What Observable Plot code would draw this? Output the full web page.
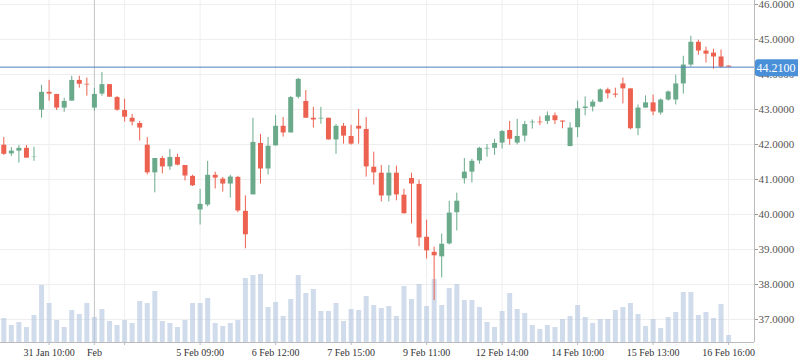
<!DOCTYPE html>
<html><head><meta charset="utf-8">
<script src="https://cdn.jsdelivr.net/npm/d3@7"></script>
<script src="https://cdn.jsdelivr.net/npm/@observablehq/plot@0.6"></script>
<style>html,body{margin:0;padding:0;background:#fff} #chart svg{display:block}</style>
</head><body><div id="chart"></div>
<script>
const opens = [41.98,41.73,41.81,41.89,41.63,42.98,43.49,43.43,43.04,43.24,43.83,43.72,43.04,43.44,43.71,43.34,42.97,42.75,42.60,41.98,41.19,41.60,41.36,41.63,41.40,41.09,40.13,40.27,41.12,41.01,40.87,41.06,40.09,40.56,42.03,41.30,41.96,42.52,42.33,43.35,43.23,42.75,42.73,42.75,42.13,42.52,42.23,42.52,42.43,41.35,41.18,40.53,41.18,40.55,41.03,40.86,39.35,38.92,38.79,39.16,40.05,41.02,41.21,41.53,41.87,41.89,42.04,42.40,42.04,42.24,42.62,42.64,42.66,42.82,42.67,41.94,42.48,43.03,43.07,43.21,43.56,43.44,43.73,43.59,42.45,43.04,43.19,42.90,43.27,43.27,43.73,44.27,44.92,44.67,44.61,44.50,44.24];
const highs = [42.20,41.91,41.97,41.97,41.92,43.69,43.83,43.43,43.32,43.95,43.95,43.90,43.60,44.06,43.71,43.37,43.29,42.86,42.66,42.20,41.60,41.66,41.86,41.72,41.40,41.12,40.72,41.52,41.21,41.06,41.12,41.09,40.53,42.75,42.29,42.20,42.83,42.77,43.37,43.89,43.54,43.06,43.06,42.75,42.57,42.60,42.55,43.00,42.77,41.78,41.40,41.40,41.38,40.72,41.18,40.98,39.84,39.07,39.44,40.38,40.61,41.60,41.58,41.92,42.00,42.15,42.40,42.66,42.72,42.66,42.70,42.79,42.93,42.90,42.67,42.62,43.24,43.36,43.27,43.59,43.61,43.61,43.90,43.59,43.13,43.39,43.41,43.30,43.53,43.98,44.52,45.09,44.98,44.78,44.72,44.70,44.24];
const lows = [41.69,41.66,41.47,41.61,41.52,42.75,43.24,42.97,42.92,43.24,43.61,43.38,42.95,43.38,43.35,42.95,42.64,42.53,42.10,41.13,40.62,41.16,41.26,41.39,40.96,40.80,39.70,40.22,40.73,40.64,40.47,40.05,39.02,40.56,40.87,41.13,41.96,42.21,42.33,43.30,42.75,42.47,42.58,42.13,41.72,42.01,41.98,42.01,41.07,40.84,40.36,40.36,40.39,40.02,39.73,39.08,38.73,37.54,38.19,39.13,39.53,40.87,40.90,41.44,41.64,41.69,41.87,41.98,41.99,42.07,42.44,42.54,42.57,42.57,42.45,41.94,42.20,42.82,42.93,43.19,43.30,43.33,43.16,42.42,42.25,43.04,42.82,42.84,43.24,43.13,43.44,44.21,44.55,44.33,44.15,44.18,44.21];
const closes = [41.72,41.81,41.89,41.61,41.64,43.49,43.44,43.04,43.23,43.83,43.72,43.70,43.43,43.71,43.35,42.98,42.78,42.64,42.47,41.19,41.60,41.36,41.63,41.41,41.10,40.82,40.29,41.12,41.04,40.87,41.07,40.10,39.42,42.06,41.30,41.95,42.52,42.33,43.34,43.86,42.75,42.70,42.75,42.13,42.52,42.24,42.01,42.44,41.36,41.19,40.53,41.18,40.56,40.02,40.87,39.33,38.96,38.82,39.15,40.04,40.38,41.21,41.52,41.89,41.89,42.03,42.37,42.15,42.23,42.57,42.64,42.62,42.82,42.68,42.64,42.47,43.02,43.07,43.21,43.56,43.45,43.41,43.59,42.45,43.04,43.19,42.93,43.27,43.50,43.73,44.27,44.92,44.67,44.58,44.50,44.21,44.21];
const volumes = [72,51,60,45,81,171,117,66,45,96,84,117,75,99,63,51,66,57,123,117,153,63,57,45,66,117,117,132,57,48,57,66,192,201,204,105,120,78,129,201,147,159,93,93,117,63,99,96,138,111,102,108,78,168,129,174,108,189,111,162,174,126,126,105,60,45,93,147,99,87,51,39,51,45,69,78,111,75,57,69,69,96,105,117,84,48,69,42,75,90,150,150,81,90,72,114,21];
const xTickIndex = [6,12,26,36,46,56,66,76,86,96];
const xTickLabels = ["31 Jan 10:00","Feb","5 Feb 09:00","6 Feb 12:00","7 Feb 15:00","9 Feb 11:00","12 Feb 14:00","14 Feb 10:00","15 Feb 13:00","16 Feb 16:00"];
const gridIndex = [6,16,26,36,46,56,66,76,86,96];
const monthIndex = [12];
const yTicks = [37,38,39,40,41,42,43,44,45,46];
const lastPrice = 44.21;

const yMin = 36.343, yMax = 46.114;
const xMin = -0.437, xMax = 99.43;
const volPerPrice = 105; // volume units per price unit in the lower panel
const up = "#6aaa8b", down = "#ec6150";

const data = opens.map((o, i) => ({i, open: o, high: highs[i], low: lows[i], close: closes[i], volume: volumes[i]}));
const labelMap = new Map(xTickIndex.map((d, k) => [d, xTickLabels[k]]));
const color = d => d.close >= d.open ? up : down;

const plot = Plot.plot({
  width: 798, height: 363,
  marginTop: 0, marginBottom: 21, marginLeft: 0, marginRight: 44,
  style: {fontFamily: "'Liberation Serif', 'Times New Roman', serif", background: "#fff"},
  x: {type: "linear", domain: [xMin, xMax], axis: null, label: null},
  y: {domain: [yMin, yMax], axis: null, label: null},
  marks: [
    Plot.ruleY(yTicks, {stroke: "#eeeeee"}),
    Plot.ruleX(gridIndex, {stroke: "#eeeeee"}),
    Plot.ruleX(monthIndex, {stroke: "#c4c4c4"}),
    Plot.ruleX(data, {x: "i", y1: () => yMin, y2: d => yMin + d.volume / volPerPrice, stroke: "#b0c4de", strokeOpacity: 0.6, strokeWidth: 5}),
    Plot.ruleX(data, {x: "i", y1: "low", y2: "high", stroke: color, strokeWidth: 1}),
    Plot.ruleX(data, {x: "i", y1: "open", y2: "close", stroke: color, strokeWidth: 5}),
    Plot.ruleY([lastPrice], {stroke: "#4a7fc1", strokeWidth: 1}),
    Plot.ruleX([xMax], {stroke: "#bbbbbb"}),
    Plot.ruleY([yMin], {stroke: "#bbbbbb"}),
    Plot.axisX([...gridIndex, ...monthIndex], {label: null, tickSize: 3, tickPadding: 3, stroke: "#bbbbbb", fill: "#333", fontSize: 10, tickFormat: d => labelMap.get(d) ?? ""}),
    Plot.axisY(yTicks, {label: null, anchor: "right", tickSize: 3, tickPadding: 1, stroke: "#999", fill: "#555", fontSize: 11, tickFormat: d => d.toFixed(4)})
  ]
});

const svg = d3.select(plot);
const yy = plot.scale("y").apply(lastPrice);
const xx = plot.scale("x").apply(xMax);
const g = svg.append("g").attr("opacity", 1);
g.append("rect").attr("x", xx + 1).attr("y", yy - 7.5).attr("width", 50).attr("height", 17).attr("rx", 3)
  .style("fill", "#4a90d9").style("stroke", "none");
g.append("text").attr("x", xx + 2.5).attr("y", yy + 1).attr("dy", "0.35em")
  .style("text-anchor", "start").style("fill", "#ffffff").style("font-size", "12px")
  .style("font-family", "'Liberation Serif', serif").text(lastPrice.toFixed(4));

document.getElementById("chart").appendChild(plot);
</script>
</body></html>
